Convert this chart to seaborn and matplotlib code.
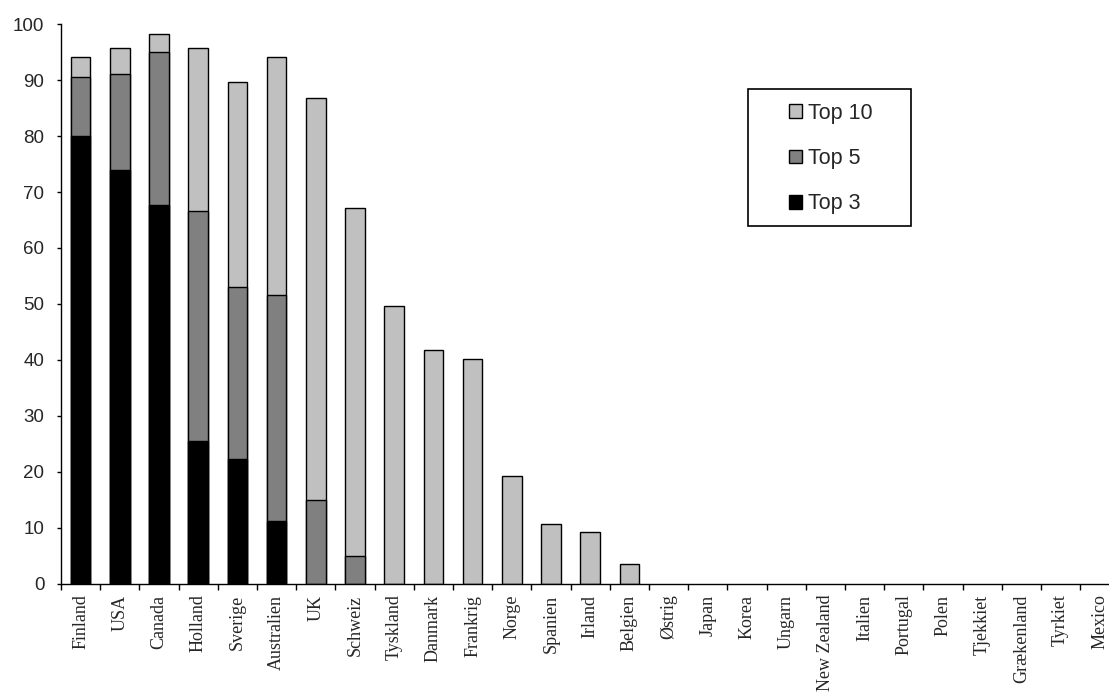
import numpy as np
import pandas as pd
import matplotlib
matplotlib.use("Agg")
import matplotlib.pyplot as plt
from matplotlib.patches import Rectangle, Patch
import seaborn as sns

countries = ["Finland", "USA", "Canada", "Holland", "Sverige", "Australien", "UK",
             "Schweiz", "Tyskland", "Danmark", "Frankrig", "Norge", "Spanien", "Irland",
             "Belgien", "Østrig", "Japan", "Korea", "Ungarn", "New Zealand", "Italien",
             "Portugal", "Polen", "Tjekkiet", "Grækenland", "Tyrkiet", "Mexico"]
# cumulative shares
top3 = [80.0, 74.0, 67.7, 25.4, 22.3, 11.1, 0, 0, 0, 0, 0, 0, 0, 0,
        0, 0, 0, 0, 0, 0, 0, 0, 0, 0, 0, 0, 0]
top5 = [90.5, 91.1, 95.1, 66.6, 53.1, 51.6, 15.0, 5.0, 0, 0, 0, 0, 0, 0,
        0, 0, 0, 0, 0, 0, 0, 0, 0, 0, 0, 0, 0]
top10 = [94.2, 95.7, 98.3, 95.7, 89.7, 94.2, 86.9, 67.1, 49.6, 41.7, 40.2, 19.2, 10.7, 9.2,
         3.5, 0, 0, 0, 0, 0, 0, 0, 0, 0, 0, 0, 0]
series_names = ["Top 10", "Top 5", "Top 3"]
colors = {"Top 10": "#C0C0C0", "Top 5": "#808080", "Top 3": "#000000"}

df = pd.DataFrame({"country": countries, "Top 3": top3, "Top 5": top5, "Top 10": top10})

sns.set_style("white")
plt.rcParams["font.family"] = ["Liberation Sans", "DejaVu Sans"]

W, H = 1109, 695
fig = plt.figure(figsize=(W / 100, H / 100), dpi=100)
ax = fig.add_axes([61 / W, 1 - 583.5 / H, 27 * 39.2 / W, (583.5 - 24.3) / H])

for name in series_names:
    sub = df[df[name] > 0]
    sns.barplot(data=sub, x="country", y=name, order=countries, color=colors[name],
                saturation=1, edgecolor="black", linewidth=1.0, width=0.5, ax=ax)

ax.set_xlim(-0.5, len(countries) - 0.5)
ax.set_ylim(0, 100)
ax.set_yticks(np.arange(0, 101, 10))
ax.set_xlabel("")
ax.set_ylabel("")

for s in ["top", "right"]:
    ax.spines[s].set_visible(False)
for s in ["left", "bottom"]:
    ax.spines[s].set_color("black")
    ax.spines[s].set_linewidth(1.0)

ax.tick_params(axis="y", direction="out", length=3, width=1, color="black",
               labelsize=13.5, pad=9, left=True)
ax.set_xticks(np.arange(len(countries)))
ax.set_xticklabels(countries, rotation=90, family=["Liberation Serif", "DejaVu Serif"],
                   fontsize=13, va="top", ha="center")
ax.set_xticks(np.arange(-0.5, len(countries), 1), minor=True)
ax.tick_params(axis="x", which="major", length=0, pad=8)
ax.tick_params(axis="x", which="minor", direction="out", length=4, width=1,
               color="black", bottom=True)

handles = [Patch(facecolor=colors[n], edgecolor="black", linewidth=1) for n in series_names]
fig.legend(handles, series_names, loc="center",
           bbox_to_anchor=((748.3 + 910.7) / 2 / W + 0.001, 1 - 158.5 / H),
           bbox_transform=fig.transFigure, frameon=False, fontsize=15.5,
           handlelength=0.6, handleheight=0.6, handletextpad=0.3, labelspacing=1.13)
fig.patches.append(Rectangle((748.3 / W, 1 - 225.7 / H), (910.7 - 748.3) / W,
                             (225.7 - 89.3) / H, transform=fig.transFigure,
                             fill=False, edgecolor="black", linewidth=1.2))

fig.savefig("out.png", dpi=100)
